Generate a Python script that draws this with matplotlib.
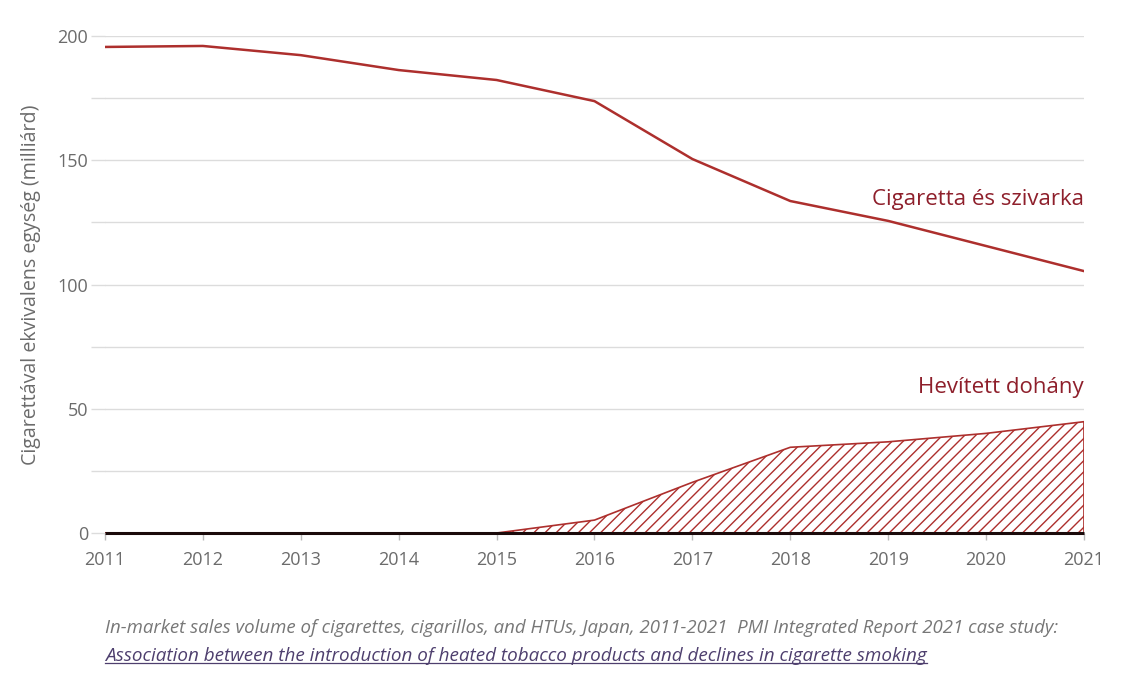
import matplotlib

matplotlib.use("Agg")
import matplotlib.pyplot as plt
import numpy as np

plt.rcParams["font.family"] = ["Open Sans", "DejaVu Sans"]
plt.rcParams["hatch.color"] = "#b03a37"
plt.rcParams["hatch.linewidth"] = 1.0

years = [2011, 2012, 2013, 2014, 2015, 2016, 2017, 2018, 2019, 2020, 2021]
cigarettes = [195.6, 196.0, 192.3, 186.3, 182.3, 173.8, 150.5, 133.6, 125.6, 115.5, 105.4]
heated = [0, 0, 0, 0, 0, 5.2, 20.4, 34.5, 36.7, 40.1, 44.8]
y_ticks = [0, 50, 100, 150, 200]
grid_levels = [0, 25, 50, 75, 100, 125, 150, 175, 200]

LINE_RED = "#ad2f2d"
LABEL_RED = "#8e1f2b"
GRAY = "#6b6b6b"
GRID = "#dcdcdc"

fig = plt.figure(figsize=(11.24, 6.86), dpi=100)
ax = fig.add_axes([0.0934, 0.223, 0.871, 0.7245])

x = np.array(years)
ax.fill_between(x, 0, heated, facecolor="white", edgecolor=LINE_RED,
                hatch="///", linewidth=1.2, zorder=2)
ax.plot(x, cigarettes, color=LINE_RED, linewidth=1.8, zorder=3)
ax.hlines(0, years[0], years[-1], color="#1a0a0a", linewidth=2.2, zorder=5,
          clip_on=False)

ax.set_xlim(years[0], years[-1])
ax.set_ylim(0, 200)
ax.set_xticks(years)
ax.set_yticks(grid_levels)
ax.set_yticklabels([str(v) if v in y_ticks else "" for v in grid_levels])
ax.grid(axis="y", color=GRID, linewidth=1.0, zorder=0)
ax.set_axisbelow(True)
for s in ax.spines.values():
    s.set_visible(False)
ax.tick_params(axis="y", length=10, color=GRID, width=1.0, labelsize=13,
               labelcolor=GRAY, pad=2)
ax.tick_params(axis="x", length=5, color="#bbbbbb", width=1.0, labelsize=13,
               labelcolor=GRAY, pad=8)

ax.set_ylabel("Cigarettával ekvivalens egység (milliárd)", fontsize=14.1,
              color=GRAY, labelpad=12)

ax.text(years[-1], 129.8, "Cigaretta és szivarka", ha="right", va="bottom",
        fontsize=16, color=LABEL_RED)
ax.text(years[-1], 54.5, "Hevített dohány", ha="right", va="bottom",
        fontsize=16, color=LABEL_RED)

fig.text(0.0934, 0.084, "In-market sales volume of cigarettes, cigarillos, and HTUs, Japan, 2011-2021  PMI Integrated Report 2021 case study:",
         fontsize=13.4, style="italic", color="#777777", va="center")
link = fig.text(0.0934, 0.044, "Association between the introduction of heated tobacco products and declines in cigarette smoking",
                fontsize=13.6, style="italic", color="#4e3f6e", va="center")
fig.canvas.draw()
bb = link.get_window_extent()
inv = fig.transFigure.inverted()
(x0, y0), (x1, _) = inv.transform([[bb.x0, bb.y0 + 2], [bb.x1, bb.y0]])
fig.add_artist(plt.Line2D([x0, x1], [y0, y0], transform=fig.transFigure,
                          color="#4e3f6e", linewidth=0.9))

fig.savefig("out.png", dpi=100)
